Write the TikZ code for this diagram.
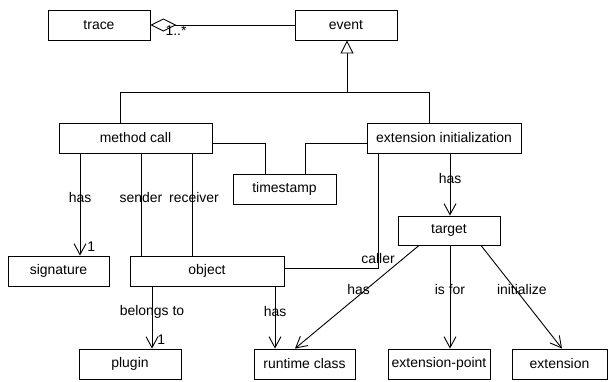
\documentclass[tikz,border=0pt]{standalone}
\usepackage{fontspec}
\setmainfont{Liberation Sans}
\usetikzlibrary{arrows.meta}
\begin{document}
\begin{tikzpicture}[x=1bp,y=-1bp,line width=0.9bp,
  cls/.style={draw,inner sep=0pt,minimum height=30bp,font=\fontsize{14}{16}\selectfont},
  lbl/.style={inner sep=0pt,font=\fontsize{14}{16}\selectfont},
  vtip/.style={-{Straight Barb[length=11bp,width=12bp]}},
  gentip/.style={-{Triangle[open,length=13bp,width=13bp,fill=white]}},
  aggtip/.style={{Diamond[open,length=26bp,width=13bp,fill=white]}-}]
\useasboundingbox (0,0) rectangle (610,381);
% classes
\node[cls,minimum width=102bp] (trace) at (99,25) {trace};
\node[cls,minimum width=102bp] (event) at (346,25) {event};
\node[cls,minimum width=153bp] (mc) at (135.5,138) {method call};
\node[cls,minimum width=154bp] (ei) at (444,138) {extension initialization};
\node[cls,minimum width=103bp] (ts) at (284.5,189) {timestamp};
\node[cls,minimum width=101bp] (sig) at (58.5,271) {signature};
\node[cls,minimum width=154bp] (obj) at (207,271) {object};
\node[cls,minimum width=102bp,minimum height=29bp] (tgt) at (449,230.5) {target};
\node[cls,minimum width=102bp] (plug) at (130,364) {plugin};
\node[cls,minimum width=101bp] (rc) at (304.5,364) {runtime class};
\node[cls,minimum width=102bp] (ep) at (439,364) {extension-point};
\node[cls,minimum width=95bp] (ext) at (559.5,364) {extension};
% aggregation
\draw[aggtip] (trace.east) -- (event.west);
\node[lbl] (m1) at (176,31) {1..*};
% generalization
\coordinate (gl) at (120,92);
\coordinate (gr) at (429,92);
\coordinate (gm) at (347,92);
\draw (mc.north -| gl) -- (gl) -- (gr) -- (ei.north -| gr);
\draw[gentip] (gm) -- (event.south -| gm);
% timestamp
\coordinate (t1) at (265,0);
\coordinate (t2) at (305,0);
\draw ([yshift=-5bp]mc.east) -| (ts.north -| t1);
\draw ([yshift=-5bp]ei.west) -| (ts.north -| t2);
% method call -> signature
\coordinate (c80) at (80,0);
\draw[vtip] (mc.south -| c80) -- (sig.north -| c80)
  node[lbl,pos=0.43] {has}
  node[lbl,pos=1,anchor=south west,xshift=7bp,yshift=4bp] {1};
% sender / receiver
\coordinate (c141) at (141,0);
\coordinate (c192) at (192,0);
\draw (mc.south -| c141) -- (obj.north -| c141) node[lbl,pos=0.43] {sender};
\draw (mc.south -| c192) -- (obj.north -| c192) node[lbl,pos=0.43,xshift=2bp] {receiver};
% caller
\coordinate (c378) at (378,0);
\draw ([yshift=3bp]obj.east) -| (ei.south -| c378) node[lbl,pos=0.54] {caller};
% ext init -> target
\coordinate (c450) at (450,0);
\draw[vtip] (ei.south -| c450) -- (tgt.north -| c450) node[lbl,pos=0.4] {has};
% object -> plugin, runtime class
\coordinate (c152) at (152,0);
\coordinate (c275) at (275,0);
\draw[vtip] (obj.south -| c152) -- (plug.north -| c152)
  node[lbl,pos=0.41] {belongs to}
  node[lbl,pos=1,anchor=south west,xshift=5bp,yshift=4bp] {1};
\draw[vtip] (obj.south -| c275) -- (rc.north -| c275) node[lbl,pos=0.41] {has};
% target -> ...
\coordinate (c419) at (419,0);
\coordinate (c481) at (481,0);
\coordinate (c295) at (295,0);
\coordinate (c562) at (562,0);
\draw[vtip] (tgt.south -| c419) -- (rc.north -| c295) node[lbl,pos=0.43,xshift=-7bp] {has};
\draw[vtip] (tgt.south -| c450) -- (ep.north -| c450) node[lbl,pos=0.43] {is for};
\draw[vtip] (tgt.south -| c481) -- (ext.north -| c562) node[lbl,pos=0.43,xshift=6bp] {initialize};
\end{tikzpicture}
\end{document}
